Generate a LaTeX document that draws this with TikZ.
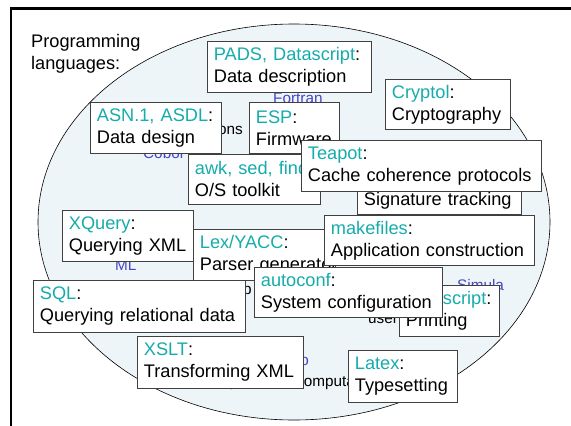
\documentclass[tikz,border=0pt]{standalone}
\usepackage{fontspec}
\setmainfont{Liberation Sans}
\definecolor{keycyan}{RGB}{22,172,172}
\definecolor{langblue}{RGB}{70,70,195}
\definecolor{cloud}{RGB}{237,245,248}
\newcommand\kw[1]{\textcolor{keycyan}{#1}}
% two-line box text: cyan language name, black application domain
\newcommand\usage[2]{\mbox{\kw{#1}:}\\\mbox{#2}}
\tikzset{
  dsl/.style={draw=black!75, fill=white, line width=0.8pt, anchor=north west,
    inner xsep=6.5pt, inner ysep=0pt, align=left,
    font=\fontsize{18.2}{22}\selectfont},
  lang/.style={inner sep=0pt, font=\fontsize{15.3}{17}\selectfont, text=langblue},
  word/.style={inner sep=0pt, font=\fontsize{15.3}{17}\selectfont, text=black},
}
\begin{document}
\begin{tikzpicture}[x=1pt, y=-1pt]
\useasboundingbox (0,0) rectangle (571,426);
\fill[white] (0,0) rectangle (571,426);
% slide frame
\draw[line width=2.5pt, line join=miter] (11,426) -- (11,8.5) -- (571,8.5);

% the universe of programming languages
\draw[fill=cloud, line width=0.6pt] (294,222) ellipse [x radius=256, y radius=198];
\node[anchor=north west, inner sep=0pt, align=left, font=\fontsize{18.2}{22}\selectfont]
  (title) at (31,34) {Programming\\languages:};

% general-purpose languages peeking out from behind the boxes
\node[lang, anchor=base west] (fortran) at (273,103) {Fortran};
\node[word, anchor=base east] (apps) at (243,134) {ons};
\node[lang, anchor=base west] (cobol) at (143,158) {Cobol};
\node[lang, anchor=base west] (ml) at (115,270) {ML};
\node[word, anchor=base west] (pfrag) at (243,294) {p};
\node[lang, anchor=base west] (simula) at (457,290) {Simula};
\node[word, anchor=base west] (user) at (368,323) {user};
\node[lang, anchor=base east] (ofrag) at (309,365) {o};
\node[word, anchor=base east] (yfrag) at (238,386) {y};
\node[word, anchor=base west] (comp) at (296,386) {computa};

% domain-specific languages
\node[dsl, text width=151pt, minimum height=51pt] (pads) at (207,41)
  {\usage{PADS, Datascript}{Data description}};
\node[dsl, text width=118pt, minimum height=51pt] (asn) at (90,102)
  {\usage{ASN.1, ASDL}{Data design}};
\node[dsl, text width=77pt, minimum height=51pt] (esp) at (249,102)
  {\usage{ESP}{Firmware}};
\node[dsl, text width=119pt, minimum height=50pt] (awk) at (188,154)
  {\usage{awk, sed, find}{O/S toolkit}};
\node[dsl, text width=112pt, minimum height=50pt] (cryptol) at (385,79)
  {\usage{Cryptol}{Cryptography}};
\node[dsl, text width=151pt, minimum height=51pt] (sig) at (357,163)
  {\strut\\\mbox{Signature tracking}};
\node[dsl, text width=227pt, minimum height=51pt] (teapot) at (301,140)
  {\usage{Teapot}{Cache coherence protocols}};
\node[dsl, text width=118pt, minimum height=51pt] (xquery) at (62,210)
  {\usage{XQuery}{Querying XML}};
\node[dsl, text width=129pt, minimum height=51pt] (lex) at (193,229)
  {\usage{Lex/YACC}{Parser generator}};
\node[dsl, text width=197pt, minimum height=50pt] (make) at (324,215)
  {\usage{makefiles}{Application construction}};
\node[dsl, text width=87pt, minimum height=51pt] (ps) at (399,285)
  {\mbox{\hspace*{37pt}\kw{script}:}\\\mbox{Printing}};
\node[dsl, text width=175pt, minimum height=50pt] (autoconf) at (254,267)
  {\usage{autoconf}{System configuration}};
\node[dsl, text width=199pt, minimum height=52pt] (sql) at (33,280)
  {\usage{SQL}{Querying relational data}};
\node[dsl, text width=153pt, minimum height=52pt] (xslt) at (137,336)
  {\usage{XSLT}{Transforming XML}};
\node[dsl, text width=96pt, minimum height=52pt] (latex) at (348,350)
  {\usage{Latex}{Typesetting}};
\end{tikzpicture}
\end{document}
